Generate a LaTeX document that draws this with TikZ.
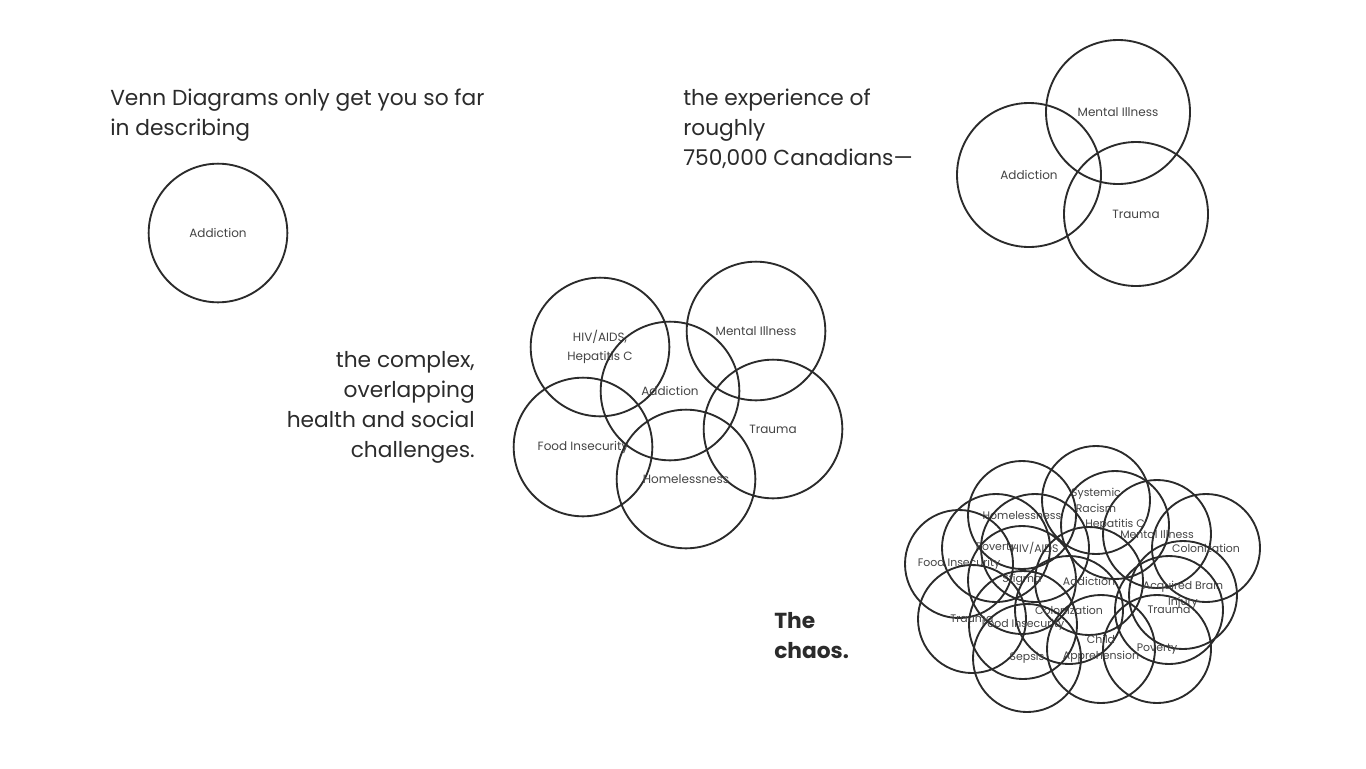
\documentclass[tikz,border=0pt]{standalone}
\usepackage{fontspec}
\setmainfont{Poppins}
\usepackage{xcolor}
\usepackage{tikz}

\definecolor{ink}{HTML}{2B2B2B}
\definecolor{labelgray}{HTML}{444444}

\tikzset{
	vennbase/.style={circle, draw=ink, line width=1.4pt, inner sep=0pt, text=labelgray, align=center},
	venntop/.style={vennbase, minimum size=108pt, font=\fontsize{9}{13}\selectfont},
	vennmid/.style={vennbase, minimum size=104pt, font=\fontsize{9}{14}\selectfont},
	vennchaos/.style={vennbase, minimum size=81pt, font=\fontsize{8.2}{12}\selectfont},
	heading/.style={inner sep=0pt, text=ink, font=\fontsize{16.3}{22.5}\selectfont}
}

\begin{document}
\begin{tikzpicture}[x=0.75pt,y=-0.75pt]
	
	\useasboundingbox[fill=white] (0,0) rectangle (1366,768);
	
	\node[heading, anchor=north west, align=left] (intro) at (110,89) {Venn Diagrams only get you so far\\in describing};
	\node[heading, anchor=north west, align=left] (experience) at (683,89) {the experience of\\roughly\\750,000 Canadians—};
	\node[heading, anchor=north east, align=right] (complex) at (475,351) {the complex,\\overlapping\\health and social\\challenges.};
	\node[heading, anchor=north west, align=left, font=\fontsize{16.3}{22.5}\selectfont\bfseries] (chaos) at (774,612) {The\\chaos.};
	
	\node[vennmid] (single) at (218,233) {Addiction};
	
	\node[venntop] (t-mental) at (1118,112) {Mental Illness};
	\node[venntop] (t-addiction) at (1029,175) {Addiction};
	\node[venntop] (t-trauma) at (1136,214) {Trauma};
	
	\node[vennmid] (m-hiv) at (600,347) {HIV/AIDS,\\Hepatitis C};
	\node[vennmid] (m-mental) at (756,331) {Mental Illness};
	\node[vennmid] (m-addiction) at (670,391) {Addiction};
	\node[vennmid] (m-trauma) at (773,429) {Trauma};
	\node[vennmid] (m-food) at (583,447) {Food Insecurity};
	\node[vennmid] (m-homeless) at (686,479) {Homelessness};
	
	\node[vennchaos] (c-racism) at (1096,500) {Systemic\\Racism};
	\node[vennchaos] (c-homeless) at (1022,515) {Homelessness};
	\node[vennchaos] (c-hepc) at (1115,525) {Hepatitis C};
	\node[vennchaos] (c-mental) at (1157,534) {Mental Illness};
	\node[vennchaos] (c-colon1) at (1206,548) {Colonization};
	\node[vennchaos] (c-food1) at (959,564) {Food Insecurity};
	\node[vennchaos] (c-poverty1) at (996,548) {Poverty};
	\node[vennchaos] (c-hiv) at (1035,548) {HIV/AIDS};
	\node[vennchaos] (c-stigma) at (1022,580) {Stigma};
	\node[vennchaos] (c-addiction) at (1089,581) {Addiction};
	\node[vennchaos] (c-brain) at (1183,595) {Acquired Brain\\Injury};
	\node[vennchaos] (c-trauma1) at (1169,610) {Trauma};
	\node[vennchaos] (c-colon2) at (1069,610) {Colonization};
	\node[vennchaos] (c-trauma2) at (972,619) {Trauma};
	\node[vennchaos] (c-food2) at (1023,625) {Food Insecurity};
	\node[vennchaos] (c-child) at (1101,649) {Child\\Apprehension};
	\node[vennchaos] (c-poverty2) at (1157,649) {Poverty};
	\node[vennchaos] (c-sepsis) at (1027,658) {Sepsis};
	
\end{tikzpicture}
\end{document}
